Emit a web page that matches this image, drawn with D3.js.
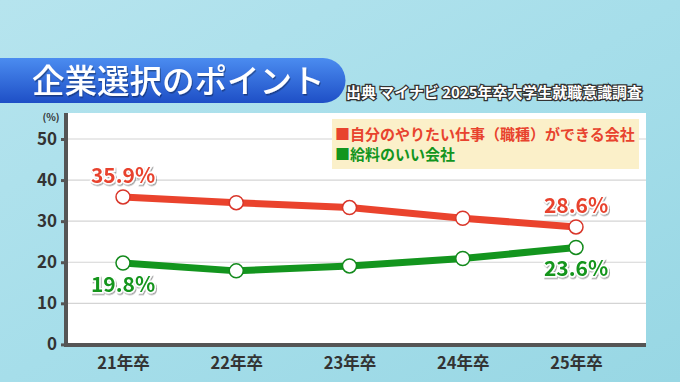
<!DOCTYPE html>
<html><head><meta charset="utf-8">
<script src="https://cdn.jsdelivr.net/npm/d3@7"></script>
<style>html,body{margin:0;padding:0;overflow:hidden;}svg{display:block;}</style>
</head><body>
<svg id="c" width="680" height="382"></svg>
<script>
const categories = ["21年卒","22年卒","23年卒","24年卒","25年卒"];
const seriesNames = ["自分のやりたい仕事（職種）ができる会社","給料のいい会社"];
const redValues = [35.9, 34.5, 33.3, 30.7, 28.6];
const greenValues = [19.8, 17.9, 19.1, 20.9, 23.6];
const yTicks = [0,10,20,30,40,50];
const title = "企業選択のポイント";
const source = "出典 マイナビ 2025年卒大学生就職意識調査";

const svg = d3.select("#c");
const W = 680, H = 382;
const font = "'Noto Sans CJK JP','Noto Sans',sans-serif";

// background
const defs = svg.append("defs");
const bg = defs.append("linearGradient").attr("id","bg").attr("x1",0).attr("y1",0).attr("x2",1).attr("y2",1);
bg.append("stop").attr("offset","0").attr("stop-color","#b6e4ee");
bg.append("stop").attr("offset","0.5").attr("stop-color","#a6deea");
bg.append("stop").attr("offset","1").attr("stop-color","#98d7e4");
svg.append("rect").attr("width",W).attr("height",H).attr("fill","url(#bg)");
const bl = defs.append("linearGradient").attr("id","bl").attr("x1",0).attr("y1",0).attr("x2",0).attr("y2",1);
bl.append("stop").attr("offset","0").attr("stop-color","#4b8cf0");
bl.append("stop").attr("offset","1").attr("stop-color","#1e4fc6");
const sh = defs.append("filter").attr("id","sh").attr("x","-10%").attr("y","-10%").attr("width","130%").attr("height","140%");
sh.append("feDropShadow").attr("dx",1).attr("dy",1.5).attr("stdDeviation",0.6).attr("flood-color","#000").attr("flood-opacity",0.35);

// banner
svg.append("path")
  .attr("d","M0,58 L323,58 A22.5,22.5 0 0 1 323,103 L0,103 Z")
  .attr("fill","url(#bl)");
svg.append("text").attr("x",32).attr("y",93).text(title)
  .attr("font-family",font).attr("font-size",32.5).attr("font-weight",500)
  .attr("fill","#fff").attr("filter","url(#sh)");
svg.append("text").attr("x",346).attr("y",98).text(source)
  .attr("font-family",font).attr("font-size",14.5).attr("font-weight",700)
  .attr("textLength",296).attr("lengthAdjust","spacingAndGlyphs")
  .attr("fill","#fff").attr("stroke","#333").attr("stroke-width",2.5).attr("paint-order","stroke");

// panel
const px0 = 66, px1 = 646, py0 = 113, py1 = 345;
svg.append("rect").attr("x",px0).attr("y",py0).attr("width",px1-px0).attr("height",py1-py0).attr("fill","#fff");

const x = d3.scalePoint().domain(categories).range([123,576]);
const y = d3.scaleLinear().domain([0,50]).range([344.4,139]);

// gridlines
svg.append("g").selectAll("line").data(yTicks.filter(d=>d>0)).join("line")
  .attr("x1",px0).attr("x2",px1).attr("y1",d=>y(d)).attr("y2",d=>y(d))
  .attr("stroke","#d4d4d4").attr("stroke-width",1.2);

// y axis
const yAxis = svg.append("g").attr("transform",`translate(${px0-1},0)`)
  .call(d3.axisLeft(y).tickValues(yTicks).tickSize(4).tickPadding(4));
yAxis.select(".domain").remove();
yAxis.selectAll(".tick line").attr("stroke","#555").attr("stroke-width",3);
yAxis.selectAll(".tick text").attr("font-family",font).attr("font-size",17).attr("font-weight",700).attr("fill","#333");
svg.append("line").attr("x1",px0).attr("x2",px0).attr("y1",py0).attr("y2",py1+1.5).attr("stroke","#555").attr("stroke-width",4);
svg.append("text").attr("x",51).attr("y",121).attr("text-anchor","middle").text("(%)")
  .attr("font-family",font).attr("font-size",10).attr("font-weight",700).attr("fill","#333");

// x axis
const xAxis = svg.append("g").attr("transform",`translate(0,${py1})`)
  .call(d3.axisBottom(x).tickSize(0).tickPadding(12));
xAxis.select(".domain").remove();
xAxis.selectAll(".tick text").attr("font-family",font).attr("font-size",16.5).attr("font-weight",700).attr("fill","#333");
svg.append("line").attr("x1",px0-2).attr("x2",px1).attr("y1",py1).attr("y2",py1).attr("stroke","#555").attr("stroke-width",4);

// legend
svg.append("rect").attr("x",332).attr("y",119).attr("width",307).attr("height",50).attr("fill","#fbf0c9");
const legColors = ["#e8432e","#13951e"];
seriesNames.forEach((n,i)=>{
  svg.append("text").attr("x",335).attr("y",140+i*20).text("■"+n)
    .attr("font-family",font).attr("font-size",15).attr("font-weight",700).attr("fill",legColors[i]);
});

// lines
const line = d3.line().x((d,i)=>x(categories[i])).y(d=>y(d));
[[redValues,"#ea432d","#d9362a"],[greenValues,"#13951e","#138a1c"]].forEach(([vals,c,sc])=>{
  svg.append("path").datum(vals).attr("d",line).attr("fill","none").attr("stroke",c).attr("stroke-width",7).attr("stroke-linejoin","round");
  svg.append("g").selectAll("circle").data(vals).join("circle")
    .attr("cx",(d,i)=>x(categories[i])).attr("cy",d=>y(d)).attr("r",7)
    .attr("fill","#fff").attr("stroke",sc).attr("stroke-width",1.5);
});

// value labels
const lab = (t,xx,yy,c)=>svg.append("text").attr("x",xx).attr("y",yy).attr("text-anchor","middle").text(t)
  .attr("font-family",font).attr("font-size",21).attr("font-weight",700).attr("fill",c)
  .attr("stroke","#fff").attr("stroke-width",3).attr("paint-order","stroke").attr("filter","url(#sh)");
lab(redValues[0].toFixed(1)+"%", x(categories[0]), y(redValues[0])-14, "#e8432e");
lab(redValues[4].toFixed(1)+"%", x(categories[4]), y(redValues[4])-14, "#e8432e");
lab(greenValues[0].toFixed(1)+"%", x(categories[0]), y(greenValues[0])+29, "#13951e");
lab(greenValues[4].toFixed(1)+"%", x(categories[4]), y(greenValues[4])+29, "#13951e");
</script>
</body></html>
